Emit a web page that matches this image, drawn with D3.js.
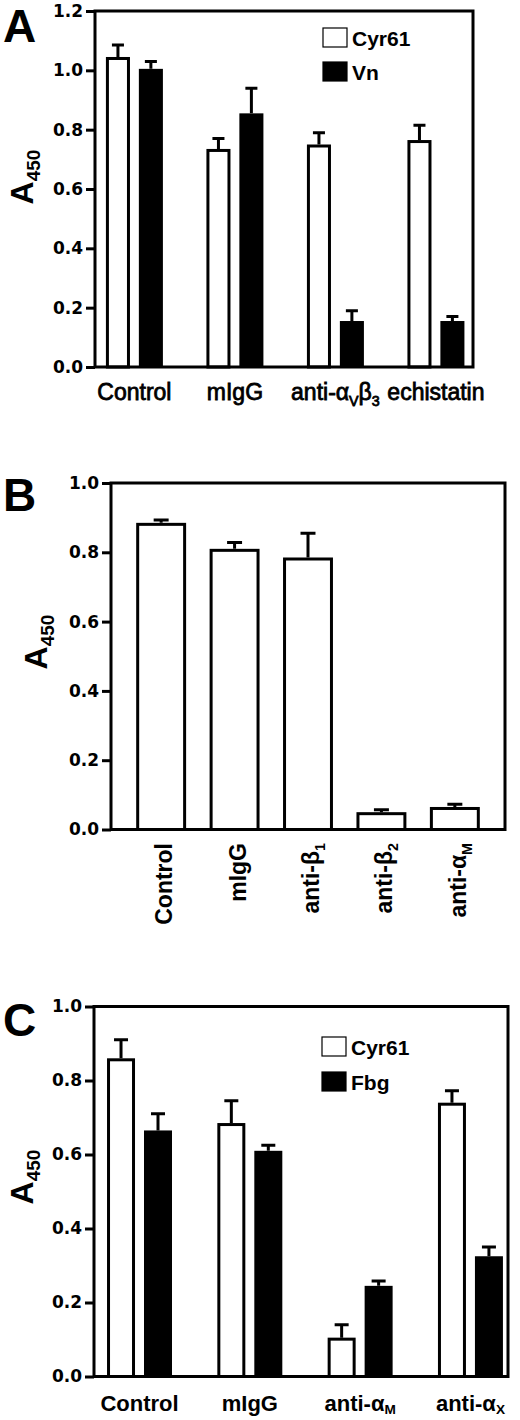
<!DOCTYPE html>
<meta charset="utf-8">
<style>
body { margin: 0; background: #fff; }
svg { display: block; }
</style>
<body>
<script src="https://d3js.org/d3.v7.min.js"></script>
<script>
// panel A : Cyr61 vs Vn
var catsA = ["Control", "mIgG", "anti-α{V}β{3}", "echistatin"];
var cyrA = [1.045, 0.735, 0.75, 0.765];
var cyrErrA = [0.04, 0.035, 0.04, 0.05];
var vnA = [1.005, 0.855, 0.155, 0.155];
var vnErrA = [0.025, 0.085, 0.035, 0.015];
var ticksA = [0, 0.2, 0.4, 0.6, 0.8, 1.0, 1.2];

// panel B : Cyr61 only
var catsB = ["Control", "mIgG", "anti-β{1}", "anti-β{2}", "anti-α{M}"];
var cyrB = [0.885, 0.81, 0.785, 0.05, 0.065];
var cyrErrB = [0.008, 0.018, 0.07, 0.007, 0.008];
var ticksB = [0, 0.2, 0.4, 0.6, 0.8, 1.0];

// panel C : Cyr61 vs Fbg
var catsC = ["Control", "mIgG", "anti-α{M}", "anti-α{X}"];
var cyrC = [0.86, 0.685, 0.105, 0.74];
var cyrErrC = [0.05, 0.06, 0.035, 0.032];
var fbgC = [0.665, 0.61, 0.245, 0.325];
var fbgErrC = [0.045, 0.015, 0.013, 0.025];
var ticksC = [0, 0.2, 0.4, 0.6, 0.8, 1.0];

var ARIAL = "'Liberation Sans', Arial, Helvetica, sans-serif";

var svg = d3.select("body").append("svg")
    .attr("width", 520)
    .attr("height", 1420)
    .style("background", "#fff");

// text with {sub} parts -> tspans
function addRich(t, str, shift, subSize) {
  var cur = 0;
  str.split(/\{|\}/).forEach(function(p, i) {
    if (!p) return;
    var sub = i % 2 === 1;
    var target = sub ? shift : 0;
    var ts = t.append("tspan").text(p);
    if (sub) ts.attr("font-size", subSize);
    if (target !== cur) ts.attr("dy", target - cur);
    cur = target;
  });
}

function panel(cfg) {
  var g = svg.append("g");

  var y = d3.scaleLinear()
      .domain([0, cfg.yMax])
      .range([cfg.bottom, cfg.top]);
  var x0 = d3.scaleBand()
      .domain(cfg.cats)
      .range([cfg.left, cfg.right])
      .paddingInner(cfg.pi)
      .paddingOuter(cfg.po)
      .align(cfg.align);
  var x1 = d3.scaleBand()
      .domain(cfg.series.map(function(s) { return s.name; }))
      .range([0, x0.bandwidth()])
      .paddingInner(cfg.pi1);
  var cap = x1.bandwidth() * cfg.capFrac;

  // bars + error bars
  cfg.series.forEach(function(s) {
    var rows = cfg.cats.map(function(c, i) { return {cat: c, v: s.values[i], e: s.errs[i]}; });
    var open = s.fill === "#fff";
    var inset = open ? 1.5 : 0;
    var cx = function(d) { return x0(d.cat) + x1(s.name) + x1.bandwidth() / 2; };

    g.selectAll(null)
        .data(rows)
      .enter().append("path")
        .attr("d", function(d) {
          var top = y(d.v + d.e);
          return "M" + cx(d) + "," + y(d.v) + "V" + top +
                 "M" + (cx(d) - cap / 2) + "," + top + "H" + (cx(d) + cap / 2);
        })
        .attr("fill", "none")
        .attr("stroke", "#000")
        .attr("stroke-width", 3);

    g.selectAll(null)
        .data(rows)
      .enter().append("rect")
        .attr("x", function(d) { return x0(d.cat) + x1(s.name) + inset; })
        .attr("width", x1.bandwidth() - 2 * inset)
        .attr("y", function(d) { return y(d.v) + inset; })
        .attr("height", function(d) { return y(0) - y(d.v) - inset; })
        .attr("fill", s.fill)
        .attr("stroke", "#000")
        .attr("stroke-width", open ? 3 : 0);
  });

  // frame
  g.append("rect")
      .attr("x", cfg.left)
      .attr("y", cfg.top)
      .attr("width", cfg.right - cfg.left)
      .attr("height", cfg.bottom - cfg.top)
      .attr("fill", "none")
      .attr("stroke", "#000")
      .attr("stroke-width", 3);

  // y axis
  var ya = g.append("g")
      .attr("transform", "translate(" + cfg.left + ",0)")
      .call(d3.axisLeft(y).tickValues(cfg.ticks).tickFormat(d3.format(".1f")).tickSize(9).tickPadding(3));
  ya.select(".domain").remove();
  ya.selectAll(".tick line").attr("stroke", "#000").attr("stroke-width", 3);
  ya.selectAll(".tick text")
      .attr("fill", "#000")
      .style("font-family", "'DejaVu Sans', sans-serif")
      .style("font-weight", "bold")
      .style("font-size", "17px");

  // x axis category labels
  var xa = g.append("g")
      .attr("transform", "translate(0," + cfg.bottom + ")")
      .call(d3.axisBottom(x0).tickSize(0).tickFormat(""));
  xa.select(".domain").remove();
  xa.selectAll(".tick").each(function(d) {
    var t = d3.select(this).append("text")
        .attr("fill", "#000")
        .style("font-family", ARIAL)
        .style("font-weight", cfg.labelWeight)
        .style("font-size", cfg.labelSize + "px");
    if (cfg.labelStroke) t.attr("stroke", "#000").attr("stroke-width", cfg.labelStroke);
    if (cfg.rotate) {
      t.attr("transform", "rotate(-90)")
       .attr("text-anchor", "end")
       .attr("x", -cfg.labelOffset)
       .attr("y", cfg.labelSize * 0.48);
    } else {
      t.attr("text-anchor", "middle")
       .attr("y", cfg.labelOffset);
    }
    addRich(t, d, cfg.labelSize * cfg.subShift, cfg.labelSize * 0.62);
  });

  // y title
  var yt = g.append("text")
      .attr("transform", "translate(" + cfg.titleX + "," + cfg.titleY + ") rotate(-90)")
      .attr("text-anchor", "middle")
      .attr("fill", "#000")
      .style("font-family", ARIAL)
      .style("font-weight", "bold")
      .style("font-size", "32px");
  addRich(yt, "A{450}", 7, 19);

  // panel letter
  g.append("text")
      .attr("x", 3)
      .attr("y", cfg.letterY)
      .attr("fill", "#000")
      .style("font-family", ARIAL)
      .style("font-weight", "bold")
      .style("font-size", "46px")
      .text(cfg.letter);

  // legend
  if (cfg.legend) {
    var lg = g.append("g")
        .attr("transform", "translate(" + cfg.legend.x + "," + cfg.legend.y + ")");
    cfg.series.forEach(function(s, i) {
      lg.append("rect")
          .attr("x", 0)
          .attr("y", i * cfg.legend.step)
          .attr("width", 24)
          .attr("height", 19)
          .attr("fill", s.fill)
          .attr("stroke", "#000")
          .attr("stroke-width", 1.2);
      lg.append("text")
          .attr("x", 29)
          .attr("y", i * cfg.legend.step + 18)
          .attr("fill", "#000")
          .style("font-family", ARIAL)
          .style("font-weight", "bold")
          .style("font-size", "21px")
          .text(s.name);
    });
  }
}

panel({
  letter: "A", letterY: 42,
  left: 95, right: 473, top: 11, bottom: 367, yMax: 1.2, ticks: ticksA,
  cats: catsA, pi: 0.433, po: 0.097, align: 0.56, pi1: 0.27, capFrac: 0.5,
  series: [
    {name: "Cyr61", values: cyrA, errs: cyrErrA, fill: "#fff"},
    {name: "Vn", values: vnA, errs: vnErrA, fill: "#000"}
  ],
  labelSize: 23, labelWeight: "normal", labelStroke: 0.8, labelOffset: 33, subShift: 0.26,
  titleX: 33, titleY: 177,
  legend: {x: 323, y: 28, step: 34}
});

panel({
  letter: "B", letterY: 511,
  left: 111, right: 505, top: 483, bottom: 829.5, yMax: 1.0, ticks: ticksB,
  cats: catsB, pi: 0.32, po: 0.343, align: 0.5, pi1: 0, capFrac: 0.3,
  series: [
    {name: "Cyr61", values: cyrB, errs: cyrErrB, fill: "#fff"}
  ],
  labelSize: 23, labelWeight: "bold", labelStroke: 0, labelOffset: 13.5, rotate: true, subShift: 0.26,
  titleX: 47, titleY: 642,
  legend: null
});

panel({
  letter: "C", letterY: 1036,
  left: 94, right: 508, top: 1006.5, bottom: 1376.5, yMax: 1.0, ticks: ticksC,
  cats: catsC, pi: 0.411, po: 0.082, align: 0.72, pi1: 0.243, capFrac: 0.5,
  series: [
    {name: "Cyr61", values: cyrC, errs: cyrErrC, fill: "#fff"},
    {name: "Fbg", values: fbgC, errs: fbgErrC, fill: "#000"}
  ],
  labelSize: 22, labelWeight: "bold", labelStroke: 0, labelOffset: 34, subShift: 0.18,
  titleX: 33, titleY: 1177,
  legend: {x: 322, y: 1037, step: 35}
});
</script>
</body>
